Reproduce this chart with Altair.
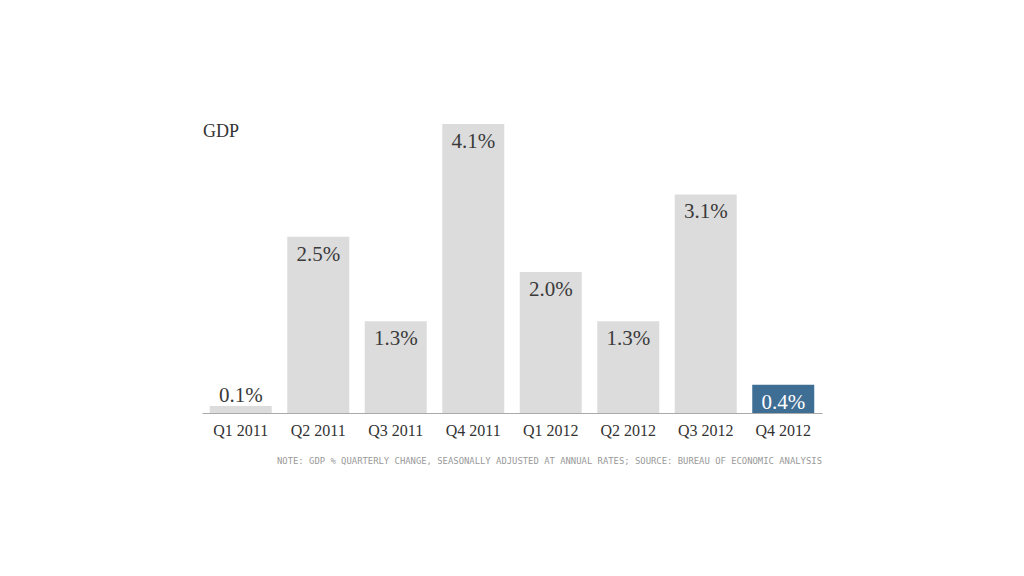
import altair as alt
import pandas as pd

quarters = ["Q1 2011", "Q2 2011", "Q3 2011", "Q4 2011", "Q1 2012", "Q2 2012", "Q3 2012", "Q4 2012"]
values = [0.1, 2.5, 1.3, 4.1, 2.0, 1.3, 3.1, 0.4]
highlight = [False, False, False, False, False, False, False, True]
labels = [f"{v:.1f}%" for v in values]

df = pd.DataFrame({"quarter": quarters, "value": values, "hl": highlight, "label": labels})

W, H = 620, 289
x = alt.X("quarter:N", sort=quarters, title=None,
          scale=alt.Scale(paddingInner=0.2, paddingOuter=0.1),
          axis=alt.Axis(labelAngle=0, labelFont="Liberation Serif", labelFontSize=16,
                        labelColor="#333333", ticks=False, labelPadding=9, grid=False,
                        domainColor="#aaaaaa", domainWidth=1))
y = alt.Y("value:Q", title=None, scale=alt.Scale(domain=[0, 4.1], nice=False, zero=True), axis=None)

base = alt.Chart(df)
bars = base.mark_bar().encode(
    x=x, y=y,
    color=alt.Color("hl:N", scale=alt.Scale(domain=[False, True], range=["#dcdcdc", "#3f6e94"]), legend=None),
)
inside = base.transform_filter("datum.value >= 0.3").mark_text(
    font="Liberation Serif", fontSize=21, baseline="alphabetic", dy=24
).encode(
    x=alt.X("quarter:N", sort=quarters), y=alt.Y("value:Q"), text="label:N",
    color=alt.Color("hl:N", scale=alt.Scale(domain=[False, True], range=["#3a3a3a", "#ffffff"]), legend=None),
)
outside = base.transform_filter("datum.value < 0.3").mark_text(
    font="Liberation Serif", fontSize=21, baseline="alphabetic", dy=-4, color="#3a3a3a"
).encode(x=alt.X("quarter:N", sort=quarters), y=alt.Y("value:Q"), text="label:N")

gdp = alt.Chart(pd.DataFrame({"t": ["GDP"]})).mark_text(
    font="Liberation Serif", fontSize=18, align="left", baseline="alphabetic", color="#333333"
).encode(x=alt.value(1), y=alt.value(13), text="t:N")

note = alt.Chart(pd.DataFrame({"t": ["NOTE: GDP % QUARTERLY CHANGE, SEASONALLY ADJUSTED AT ANNUAL RATES; SOURCE: BUREAU OF ECONOMIC ANALYSIS"]})).mark_text(
    font="DejaVu Sans Mono", fontSize=8.9, align="right", baseline="alphabetic", color="#999999"
).encode(x=alt.value(W), y=alt.value(340), text="t:N")

chart = alt.layer(bars, inside, outside, gdp, note).resolve_scale(color="independent").properties(
    width=W, height=H,
    autosize=alt.AutoSizeParams(type="none"),
    padding={"left": 194, "top": 116, "right": 194, "bottom": 155},
).configure(background="white").configure_view(stroke=None).configure_axis(grid=False)

chart.save("out.html", embed_options={"renderer": "svg", "actions": False})
